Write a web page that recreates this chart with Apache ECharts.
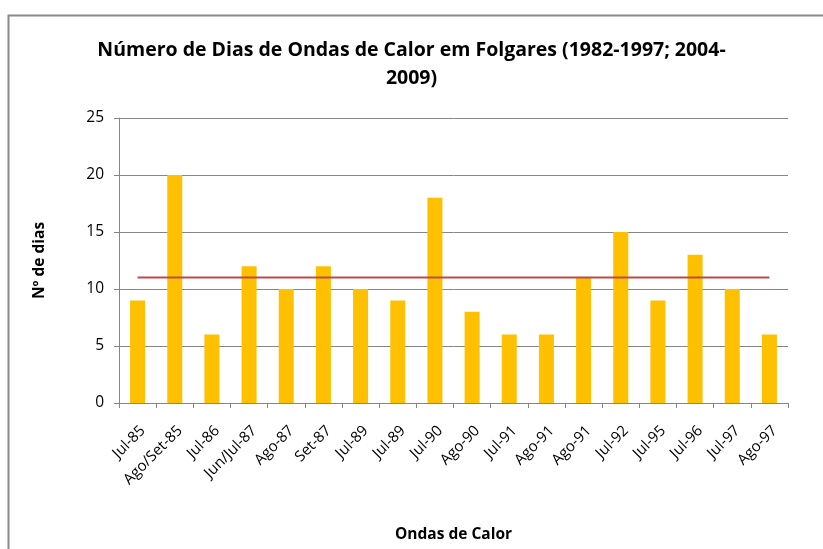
<!DOCTYPE html>
<html>
<head>
<meta charset="utf-8">
<script src="https://cdn.jsdelivr.net/npm/echarts@6/dist/echarts.min.js"></script>
<style>
  html, body { margin: 0; padding: 0; background: #fff; }
  #chart { width: 823px; height: 549px; }
</style>
</head>
<body>
<div id="chart"></div>
<script>
// Heat-wave episodes and number of days in each
const categories = ['Jul-85', 'Ago/Set-85', 'Jul-86', 'Jun/Jul-87', 'Ago-87', 'Set-87', 'Jul-89', 'Jul-89',
  'Jul-90', 'Ago-90', 'Jul-91', 'Ago-91', 'Ago-91', 'Jul-92', 'Jul-95', 'Jul-96', 'Jul-97', 'Ago-97'];
const diasValues = [9, 20, 6, 12, 10, 12, 10, 9, 18, 8, 6, 6, 11, 15, 9, 13, 10, 6];
// Reference line drawn across all episodes
const referenceLevel = 11;
const referenceValues = categories.map(() => referenceLevel);
const yTicks = [0, 5, 10, 15, 20, 25];

const font = '"Open Sans", "Noto Sans", sans-serif';
const chart = echarts.init(document.getElementById('chart'));
chart.setOption({
  backgroundColor: '#ffffff',
  animation: false,
  title: {
    text: 'Número de Dias de Ondas de Calor em Folgares (1982-1997; 2004-\n2009)',
    left: 'center',
    top: 31,
    textStyle: { fontFamily: font, fontSize: 19.5, fontWeight: 'bold', color: '#000', lineHeight: 28 }
  },
  graphic: [{
    type: 'polyline',
    shape: { points: [[8.5, 560], [8.5, 15.5], [830, 15.5]] },
    style: { stroke: '#8a8a8a', lineWidth: 2, fill: null }
  }],
  grid: { left: 119, right: 35, top: 118, bottom: 146 },
  xAxis: {
    type: 'category',
    data: categories,
    name: 'Ondas de Calor',
    nameLocation: 'middle',
    nameGap: 124,
    nameTextStyle: { fontFamily: font, fontSize: 15.5, fontWeight: 'bold', color: '#000' },
    axisLine: { lineStyle: { color: '#868686', width: 1 } },
    axisTick: { show: true, length: 5, lineStyle: { color: '#868686' } },
    axisLabel: {
      rotate: 45, interval: 0, fontFamily: font, fontSize: 15, color: '#000',
      margin: 20, verticalAlign: 'top'
    }
  },
  yAxis: {
    type: 'value',
    min: yTicks[0],
    max: yTicks[yTicks.length - 1],
    interval: 5,
    name: 'Nº de dias',
    nameLocation: 'middle',
    nameGap: 71,
    nameRotate: 90,
    nameTextStyle: { fontFamily: font, fontSize: 15.5, fontWeight: 'bold', color: '#000' },
    axisLine: { show: true, lineStyle: { color: '#868686', width: 1 } },
    axisTick: { show: true, length: 5, lineStyle: { color: '#868686' } },
    axisLabel: { fontFamily: font, fontSize: 15.5, color: '#000', margin: 15 },
    splitLine: { show: true, lineStyle: { color: '#868686', width: 1 } }
  },
  series: [
    {
      type: 'bar',
      data: diasValues,
      barWidth: 15,
      itemStyle: { color: '#FFC000' }
    },
    {
      type: 'line',
      data: referenceValues,
      symbol: 'none',
      lineStyle: { color: '#BE4B48', width: 2 },
      z: 3
    }
  ]
});
</script>
</body>
</html>
